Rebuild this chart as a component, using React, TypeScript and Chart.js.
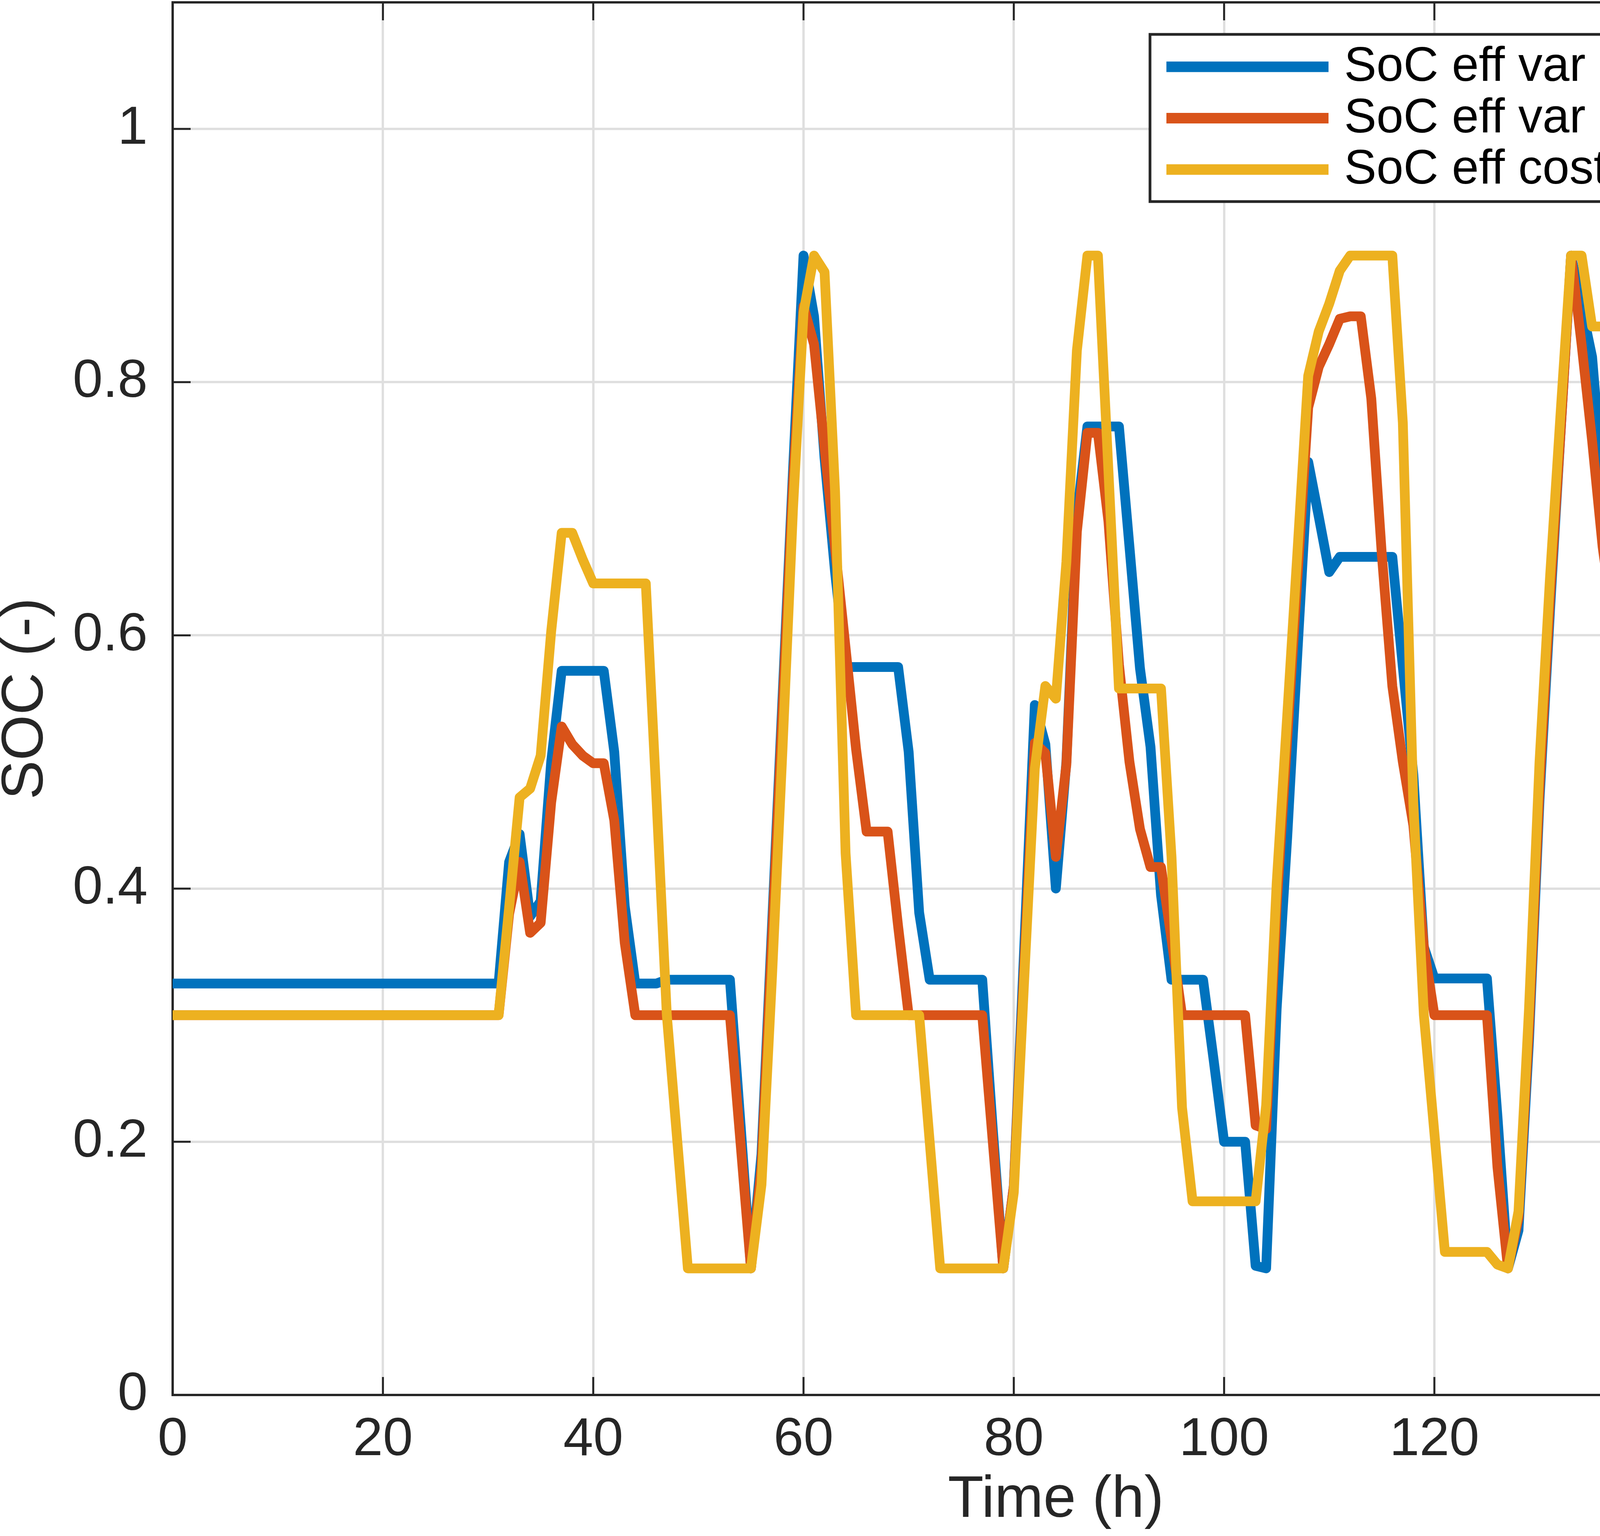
import React, { useEffect, useRef } from "react";
import { Chart, registerables } from "chart.js";

Chart.register(...registerables);

// ---------- data (hourly state of charge, h = 0 … 167) ----------
const SERIES_NAMES = ["SoC eff var + degr", "SoC eff var + no degr", "SoC eff cost + no degr"];
const SERIES_COLORS = ["#0072BD", "#D95319", "#EDB120"];

const SOC_VAR_DEGR = [
  0.325, 0.325, 0.325, 0.325, 0.325, 0.325, 0.325, 0.325, 0.325, 0.325,
  0.325, 0.325, 0.325, 0.325, 0.325, 0.325, 0.325, 0.325, 0.325, 0.325,
  0.325, 0.325, 0.325, 0.325, 0.325, 0.325, 0.325, 0.325, 0.325, 0.325,
  0.325, 0.325, 0.421, 0.443, 0.378, 0.39, 0.5, 0.572, 0.572, 0.572,
  0.572, 0.572, 0.508, 0.386, 0.325, 0.325, 0.325, 0.328, 0.328, 0.328,
  0.328, 0.328, 0.328, 0.328, 0.215, 0.1, 0.19, 0.37, 0.55, 0.73,
  0.9, 0.852, 0.74, 0.65, 0.575, 0.575, 0.575, 0.575, 0.575, 0.575,
  0.508, 0.381, 0.328, 0.328, 0.328, 0.328, 0.328, 0.328, 0.21, 0.1,
  0.165, 0.355, 0.545, 0.514, 0.4, 0.5, 0.695, 0.765, 0.765, 0.765,
  0.765, 0.67, 0.574, 0.512, 0.395, 0.328, 0.328, 0.328, 0.328, 0.265,
  0.2, 0.2, 0.2, 0.102, 0.1, 0.305, 0.44, 0.59, 0.737, 0.694,
  0.65, 0.662, 0.662, 0.662, 0.662, 0.662, 0.662, 0.575, 0.49, 0.354,
  0.329, 0.329, 0.329, 0.329, 0.329, 0.329, 0.22, 0.1, 0.13, 0.28,
  0.47, 0.62, 0.76, 0.9, 0.86, 0.82, 0.72, 0.62, 0.55, 0.4,
  0.332, 0.332, 0.332, 0.332, 0.332, 0.332, 0.332, 0.332, 0.332, 0.332,
  0.332, 0.332, 0.332, 0.332, 0.332, 0.332, 0.332, 0.44, 0.568, 0.596,
  0.52, 0.4, 0.331, 0.331, 0.331, 0.331, 0.331, 0.331,
];

const SOC_VAR_NODEGR = [
  0.3, 0.3, 0.3, 0.3, 0.3, 0.3, 0.3, 0.3, 0.3, 0.3,
  0.3, 0.3, 0.3, 0.3, 0.3, 0.3, 0.3, 0.3, 0.3, 0.3,
  0.3, 0.3, 0.3, 0.3, 0.3, 0.3, 0.3, 0.3, 0.3, 0.3,
  0.3, 0.3, 0.38, 0.421, 0.365, 0.373, 0.468, 0.528, 0.514, 0.505,
  0.499, 0.499, 0.454, 0.357, 0.3, 0.3, 0.3, 0.3, 0.3, 0.3,
  0.3, 0.3, 0.3, 0.3, 0.2, 0.1, 0.18, 0.36, 0.54, 0.72,
  0.86, 0.83, 0.748, 0.669, 0.59, 0.51, 0.445, 0.445, 0.445, 0.37,
  0.3, 0.3, 0.3, 0.3, 0.3, 0.3, 0.3, 0.3, 0.2, 0.1,
  0.165, 0.34, 0.515, 0.507, 0.425, 0.498, 0.682, 0.76, 0.76, 0.69,
  0.577, 0.5, 0.447, 0.417, 0.417, 0.36, 0.3, 0.3, 0.3, 0.3,
  0.3, 0.3, 0.3, 0.213, 0.21, 0.387, 0.518, 0.649, 0.78, 0.812,
  0.83, 0.85, 0.852, 0.852, 0.787, 0.664, 0.56, 0.5, 0.45, 0.354,
  0.3, 0.3, 0.3, 0.3, 0.3, 0.3, 0.18, 0.1, 0.14, 0.29,
  0.48, 0.63, 0.76, 0.9, 0.83, 0.754, 0.67, 0.61, 0.557, 0.557,
  0.5, 0.446, 0.446, 0.37, 0.3, 0.3, 0.3, 0.3, 0.3, 0.3,
  0.3, 0.3, 0.3, 0.3, 0.3, 0.3, 0.3, 0.395, 0.505, 0.541,
  0.541, 0.541, 0.541, 0.488, 0.364, 0.3, 0.3, 0.3,
];

const SOC_COST_NODEGR = [
  0.3, 0.3, 0.3, 0.3, 0.3, 0.3, 0.3, 0.3, 0.3, 0.3,
  0.3, 0.3, 0.3, 0.3, 0.3, 0.3, 0.3, 0.3, 0.3, 0.3,
  0.3, 0.3, 0.3, 0.3, 0.3, 0.3, 0.3, 0.3, 0.3, 0.3,
  0.3, 0.3, 0.385, 0.472, 0.479, 0.505, 0.603, 0.681, 0.681, 0.66,
  0.641, 0.641, 0.641, 0.641, 0.641, 0.641, 0.474, 0.3, 0.2, 0.1,
  0.1, 0.1, 0.1, 0.1, 0.1, 0.1, 0.166, 0.33, 0.51, 0.7,
  0.855, 0.9, 0.887, 0.714, 0.428, 0.3, 0.3, 0.3, 0.3, 0.3,
  0.3, 0.3, 0.2, 0.1, 0.1, 0.1, 0.1, 0.1, 0.1, 0.1,
  0.16, 0.33, 0.495, 0.56, 0.55, 0.658, 0.825, 0.9, 0.9, 0.73,
  0.558, 0.558, 0.558, 0.558, 0.558, 0.425, 0.227, 0.153, 0.153, 0.153,
  0.153, 0.153, 0.153, 0.153, 0.229, 0.404, 0.536, 0.669, 0.805, 0.84,
  0.862, 0.888, 0.9, 0.9, 0.9, 0.9, 0.9, 0.768, 0.467, 0.3,
  0.207, 0.113, 0.113, 0.113, 0.113, 0.113, 0.103, 0.1, 0.145, 0.305,
  0.5, 0.646, 0.775, 0.9, 0.9, 0.844, 0.844, 0.844, 0.844, 0.741,
  0.468, 0.3, 0.3, 0.3, 0.3, 0.3, 0.3, 0.3, 0.3, 0.3,
  0.3, 0.3, 0.3, 0.3, 0.302, 0.305, 0.305, 0.398, 0.521, 0.549,
  0.549, 0.549, 0.549, 0.549, 0.549, 0.425, 0.3, 0.3,
];

const HOURS = SOC_VAR_DEGR.map((_, i) => i);

const X_TICK_STEP = 20;
const X_MIN = 0;
const X_MAX = 168;
const Y_TICK_STEP = 0.2;
const Y_MIN = 0;
const Y_MAX = 1.1;

const X_TITLE = "Time (h)";
const Y_TITLE = "SOC (-)";

// ---------- styling ----------
const W = 4968;
const H = 3932;
const FONT = '"Liberation Sans", Arial, Helvetica, sans-serif';
const AXIS_COLOR = "#262626";
const GRID_COLOR = "#dfdfdf";
const LINE_W = 25;

const boxPlugin = {
  id: "matlabBox",
  beforeDatasetsDraw(chart: any) {
    const { ctx, chartArea, scales } = chart;
    const { left, right, top, bottom } = chartArea;
    ctx.save();
    ctx.strokeStyle = AXIS_COLOR;
    ctx.lineWidth = 5;
    const tl = 46;
    scales.x.ticks.forEach((t: any) => {
      const px = scales.x.getPixelForValue(t.value);
      ctx.beginPath();
      ctx.moveTo(px, bottom);
      ctx.lineTo(px, bottom - tl);
      ctx.moveTo(px, top);
      ctx.lineTo(px, top + tl);
      ctx.stroke();
    });
    scales.y.ticks.forEach((t: any) => {
      const py = scales.y.getPixelForValue(t.value);
      ctx.beginPath();
      ctx.moveTo(left, py);
      ctx.lineTo(left + tl, py);
      ctx.moveTo(right, py);
      ctx.lineTo(right - tl, py);
      ctx.stroke();
    });
    ctx.lineWidth = 6;
    ctx.strokeRect(left, top, right - left, bottom - top);
    ctx.restore();
  },
};

const legendPlugin = {
  id: "matlabLegend",
  afterDatasetsDraw(chart: any) {
    const { ctx, chartArea } = chart;
    const bx0 = chartArea.right - 2020;
    const bx1 = chartArea.right - 243;
    const by0 = chartArea.top + 82;
    const by1 = chartArea.top + 510;
    ctx.save();
    ctx.fillStyle = "#ffffff";
    ctx.fillRect(bx0, by0, bx1 - bx0, by1 - by0);
    ctx.strokeStyle = AXIS_COLOR;
    ctx.lineWidth = 7;
    ctx.strokeRect(bx0, by0, bx1 - bx0, by1 - by0);
    ctx.font = `124px ${FONT}`;
    ctx.textBaseline = "alphabetic";
    ctx.textAlign = "left";
    SERIES_NAMES.forEach((name, i) => {
      const cy = by0 + 83 + i * 131.5;
      ctx.strokeStyle = SERIES_COLORS[i];
      ctx.lineWidth = LINE_W + 2;
      ctx.lineCap = "butt";
      ctx.beginPath();
      ctx.moveTo(bx0 + 42, cy);
      ctx.lineTo(bx0 + 457, cy);
      ctx.stroke();
      ctx.fillStyle = "#000000";
      ctx.fillText(name, bx0 + 497, cy + 36);
    });
    ctx.restore();
  },
};

const formatTick = (v: number | string) => {
  const n = Math.round(Number(v) * 1000) / 1000;
  return String(n);
};

export default function App() {
  const canvasRef = useRef<HTMLCanvasElement | null>(null);

  useEffect(() => {
    document.body.style.margin = "0";
    document.body.style.overflow = "hidden";
    const canvas = canvasRef.current;
    if (!canvas) return;

    const series = [SOC_VAR_DEGR, SOC_VAR_NODEGR, SOC_COST_NODEGR];
    const drawOrder = [2, 1, 0];

    const chart = new Chart(canvas, {
      type: "line",
      data: {
        datasets: series.map((vals, i) => ({
          label: SERIES_NAMES[i],
          data: vals.map((v, k) => ({ x: HOURS[k], y: v })),
          borderColor: SERIES_COLORS[i],
          backgroundColor: SERIES_COLORS[i],
          borderWidth: LINE_W,
          borderJoinStyle: "round" as const,
          borderCapStyle: "butt" as const,
          pointRadius: 0,
          tension: 0,
          fill: false,
          order: drawOrder[i],
        })),
      },
      options: {
        responsive: false,
        animation: false,
        devicePixelRatio: 1,
        layout: { padding: { top: 6, right: 4, bottom: 0, left: 0 } },
        plugins: {
          legend: { display: false },
          tooltip: { enabled: false },
        },
        scales: {
          x: {
            type: "linear",
            min: X_MIN,
            max: X_MAX,
            afterFit: (s: any) => {
              s.height = 361;
              s.paddingLeft = 0;
              s.paddingRight = 0;
              s.paddingTop = 0;
              s.paddingBottom = 0;
            },
            ticks: {
              stepSize: X_TICK_STEP,
              includeBounds: false,
              autoSkip: false,
              maxRotation: 0,
              padding: 33,
              color: AXIS_COLOR,
              font: { family: FONT, size: 138 },
              callback: formatTick,
            },
            grid: { color: GRID_COLOR, lineWidth: 6, drawTicks: false },
            border: { display: false },
            title: {
              display: true,
              text: X_TITLE,
              color: AXIS_COLOR,
              font: { family: FONT, size: 150, lineHeight: 1.2 },
              padding: 0,
            },
          },
          y: {
            type: "linear",
            min: Y_MIN,
            max: Y_MAX,
            afterFit: (s: any) => {
              s.width = 442;
              s.paddingTop = 0;
              s.paddingBottom = 0;
              s.paddingLeft = 0;
              s.paddingRight = 0;
            },
            ticks: {
              stepSize: Y_TICK_STEP,
              includeBounds: false,
              padding: 64,
              color: AXIS_COLOR,
              font: { family: FONT, size: 138 },
              callback: formatTick,
            },
            grid: { color: GRID_COLOR, lineWidth: 6, drawTicks: false },
            border: { display: false },
            title: {
              display: true,
              text: Y_TITLE,
              color: AXIS_COLOR,
              font: { family: FONT, size: 150, lineHeight: 0.9 },
              padding: 0,
            },
          },
        },
      },
      plugins: [boxPlugin, legendPlugin],
    } as any);

    return () => {
      chart.destroy();
    };
  }, []);

  return (
    <canvas
      ref={canvasRef}
      width={W}
      height={H}
      style={{ display: "block", width: `${W}px`, height: `${H}px` }}
    />
  );
}
